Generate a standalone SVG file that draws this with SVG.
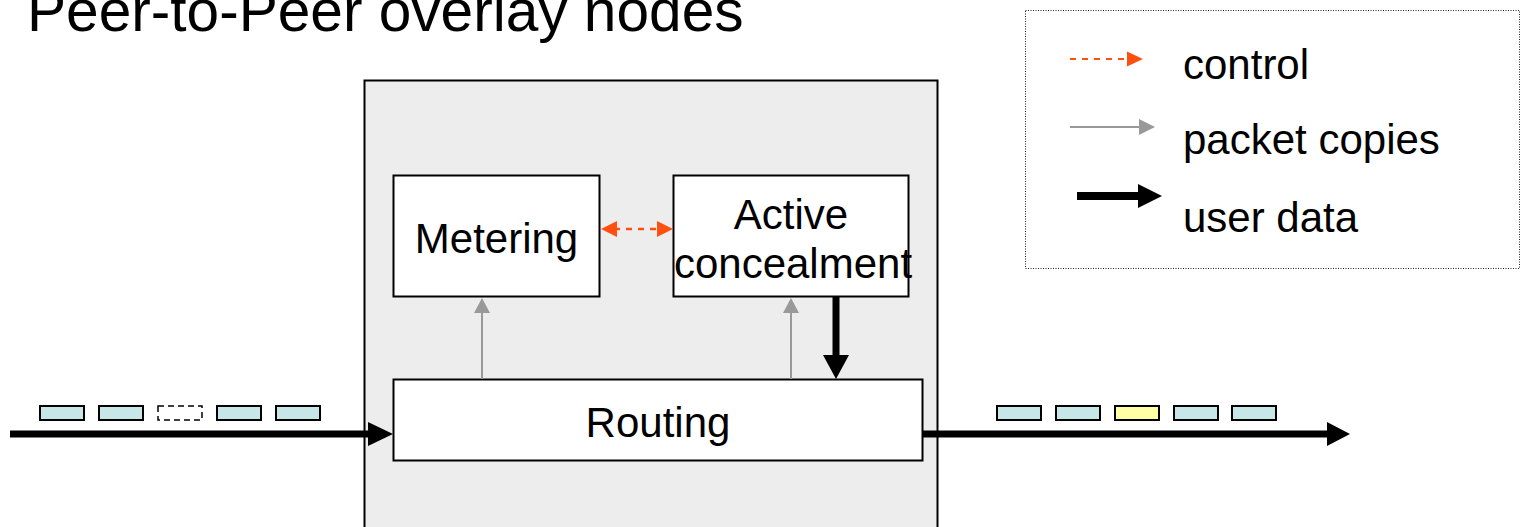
<svg xmlns="http://www.w3.org/2000/svg" width="1522" height="527" viewBox="0 0 1522 527">
<style>
text{font-family:"Liberation Sans",Arial,sans-serif;fill:#000}
.lbl{font-size:42px}
.box{fill:#fff;stroke:#000;stroke-width:2}
.pk{fill:#c6e6e8;stroke:#000;stroke-width:2}
.ctl{stroke:#ff5010;stroke-width:2.5;stroke-dasharray:6 6;fill:none}
.cpy{stroke:#999;stroke-width:2;fill:none}
.dat{stroke:#000;stroke-width:7;fill:none}
</style>
<rect width="1522" height="527" fill="#fff"/>
<text x="27" y="31" style="font-size:58.6px">Peer-to-Peer overlay nodes</text>
<g id="overlay-node"><rect x="364.5" y="80.5" width="573" height="470" fill="#ededed" stroke="#000" stroke-width="2"/></g>
<g id="metering"><rect class="box" x="393.5" y="175.5" width="206" height="121"/><text class="lbl" x="496.5" y="253" text-anchor="middle">Metering</text></g>
<g id="active-concealment"><rect class="box" x="673.5" y="175.5" width="235" height="121"/><text class="lbl" x="791" y="229" text-anchor="middle">Active</text><text class="lbl" x="793" y="278" text-anchor="middle">concealment</text></g>
<g id="routing"><rect class="box" x="393.5" y="379.5" width="529" height="81"/><text class="lbl" x="658" y="437" text-anchor="middle">Routing</text></g>
<g id="packets-in">
<rect class="pk" x="40" y="406" width="44" height="14"/>
<rect class="pk" x="99" y="406" width="44" height="14"/>
<rect x="158" y="406" width="44" height="14" fill="#fff" stroke="#000" stroke-width="1.5" stroke-dasharray="6 4"/>
<rect class="pk" x="217" y="406" width="44" height="14"/>
<rect class="pk" x="276" y="406" width="44" height="14"/>
</g>
<g id="packets-out">
<rect class="pk" x="997" y="406" width="44" height="14"/>
<rect class="pk" x="1056" y="406" width="44" height="14"/>
<rect class="pk" x="1115" y="406" width="44" height="14" style="fill:#ffffa6"/>
<rect class="pk" x="1174" y="406" width="44" height="14"/>
<rect class="pk" x="1232" y="406" width="44" height="14"/>
</g>
<g id="connectors">
<line class="dat" x1="10" y1="434" x2="370" y2="434"/>
<polygon points="368,422 393,434 368,446" fill="#000"/>
<line class="dat" x1="923" y1="434" x2="1330" y2="434"/>
<polygon points="1327,422 1350,434 1327,446" fill="#000"/>
<line class="ctl" x1="614" y1="229" x2="660" y2="229"/>
<polygon points="601,229 617,221 617,237" fill="#ff5010"/>
<polygon points="673,229 657,221 657,237" fill="#ff5010"/>
<line class="cpy" x1="482" y1="379" x2="482" y2="310"/>
<polygon points="482,298 474,313 490,313" fill="#999"/>
<line class="cpy" x1="791" y1="379" x2="791" y2="310"/>
<polygon points="791,298 783,313 799,313" fill="#999"/>
<line class="dat" x1="836" y1="297" x2="836" y2="358"/>
<polygon points="823,355 849,355 836,379" fill="#000"/>
</g>
<g id="legend">
<rect x="1025.5" y="10.5" width="494" height="258" fill="none" stroke="#222" stroke-width="1" stroke-dasharray="1 1.5"/>
<line class="ctl" x1="1070" y1="59" x2="1130" y2="59" style="stroke-width:2"/>
<polygon points="1127,51.5 1143,59 1127,66.5" fill="#ff5010"/>
<text class="lbl" x="1183" y="79">control</text>
<line class="cpy" x1="1070" y1="127" x2="1142" y2="127"/>
<polygon points="1139,119 1155,127 1139,135" fill="#999"/>
<text class="lbl" x="1183" y="154">packet copies</text>
<line class="dat" x1="1077" y1="196" x2="1140" y2="196" style="stroke-width:8"/>
<polygon points="1138,184 1162,196 1138,208" fill="#000"/>
<text class="lbl" x="1183" y="232">user data</text>
</g>
</svg>
